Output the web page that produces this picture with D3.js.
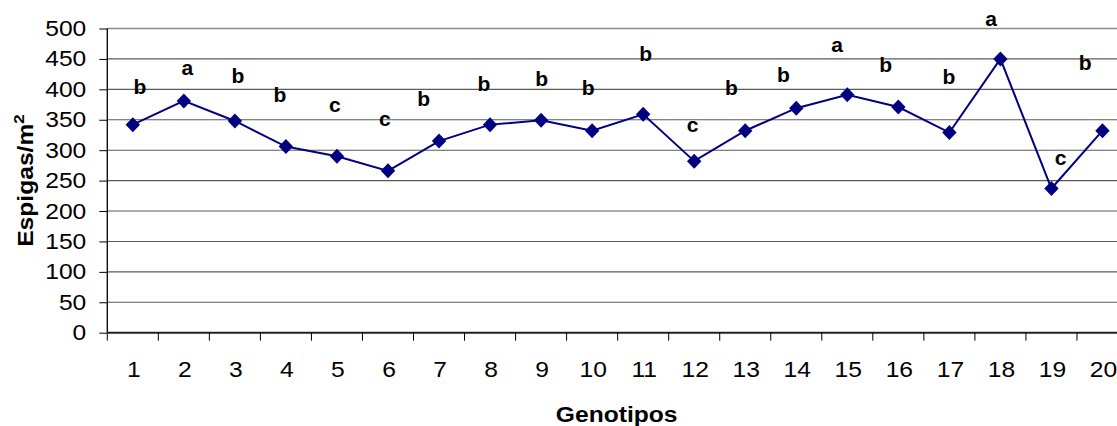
<!DOCTYPE html>
<html>
<head>
<meta charset="utf-8">
<script src="https://cdn.jsdelivr.net/npm/d3@7"></script>
<style>
  html, body { margin: 0; padding: 0; background: #fff; }
  svg { display: block; font-family: "Liberation Sans", Arial, sans-serif; }
</style>
</head>
<body>
<svg id="chart" width="1117" height="426"></svg>
<script>
// Genotypes on the x axis
const genotipos = ["1","2","3","4","5","6","7","8","9","10","11","12","13","14","15","16","17","18","19","20"];
// Spikes per square metre for each genotype
const espigas = [342, 381, 348, 306, 290, 266, 315, 342, 349, 332, 359, 282, 332, 369, 391, 371, 329, 450, 237, 332];
// Mean-separation letters for each genotype
const letras = ["b","a","b","b","c","c","b","b","b","b","b","c","b","b","a","b","b","a","c","b"];
// Where each letter sits: genotype coordinate and height on the value axis
const letraX = [1.14, 2.07, 3.06, 3.88, 4.96, 5.94, 6.70, 7.88, 9.01, 9.92, 11.05, 11.97, 12.73, 13.75, 14.80, 15.75, 16.99, 17.82, 19.18, 19.66];
const letraY = [392, 424, 411, 379, 362, 339, 372, 398, 405, 391, 447, 330, 391, 412, 461, 428, 409, 504, 275, 431];
// Value axis ticks
const yTicks = [0, 50, 100, 150, 200, 250, 300, 350, 400, 450, 500];

const svg = d3.select("#chart");
const plotL = 107.3, plotR = 1128, plotT = 28.5, plotB = 332.7;
const WIDE = 1.12; // horizontal widening of the text glyphs

const x = d3.scaleBand().domain(genotipos).range([plotL, plotR]).padding(0);
const xc = d => x(d) + x.bandwidth() / 2;
// continuous genotype coordinate for the letters
const xLin = d3.scaleLinear().domain([1, 20]).range([xc("1"), xc("20")]);
const y = d3.scaleLinear().domain([0, 500]).range([plotB, plotT]);

// places a text element at (px, py) with its glyphs widened
function placeWide(sel, px, py, sx) {
  sel.attr("x", 0).attr("y", 0)
     .attr("transform", (d, i) => `translate(${px(d, i)},${py(d, i)}) scale(${sx},1)`);
}

// horizontal gridlines
svg.append("g")
  .selectAll("line")
  .data(yTicks.filter(t => t > 0))
  .join("line")
  .attr("x1", plotL).attr("x2", plotR)
  .attr("y1", d => y(d)).attr("y2", d => y(d))
  .attr("stroke", d => d === 500 ? "#8a8a8a" : "#5a5a5a")
  .attr("stroke-width", d => d === 500 ? 1.6 : 1.1);

// y axis
const yAxis = svg.append("g")
  .attr("transform", `translate(${plotL},0)`)
  .call(d3.axisLeft(y).tickValues(yTicks).tickSize(8).tickPadding(13).tickFormat(d3.format("d")));
yAxis.select(".domain").attr("stroke", "#000").attr("stroke-width", 1.3).attr("d", `M0,${plotT}V${plotB}`);
yAxis.selectAll(".tick line").attr("stroke", "#000").attr("stroke-width", 1);
yAxis.selectAll(".tick text")
  .attr("font-size", 22).attr("fill", "#000")
  .attr("font-family", "Liberation Sans, Arial, sans-serif")
  .call(placeWide, () => -21, () => 0, WIDE);

// x axis with ticks on category boundaries
const xAxis = svg.append("g").attr("transform", `translate(0,${plotB})`);
xAxis.append("line")
  .attr("x1", plotL).attr("x2", plotR).attr("y1", 0).attr("y2", 0)
  .attr("stroke", "#222").attr("stroke-width", 2);
xAxis.selectAll("line.tk")
  .data(genotipos)
  .join("line")
  .attr("class", "tk")
  .attr("x1", d => x(d)).attr("x2", d => x(d))
  .attr("y1", 0).attr("y2", 8)
  .attr("stroke", "#000").attr("stroke-width", 1);
xAxis.selectAll("text")
  .data(genotipos)
  .join("text")
  .attr("text-anchor", "middle")
  .attr("font-size", 22)
  .attr("fill", "#000")
  .text(d => d)
  .call(placeWide, d => xc(d) + 1, () => 44, WIDE);

// axis titles
svg.append("text")
  .attr("text-anchor", "middle")
  .attr("font-size", 22)
  .attr("font-weight", "bold")
  .text("Genotipos")
  .call(placeWide, () => (plotL + plotR) / 2 - 1, () => 421.5, WIDE);

const yt = svg.append("text")
  .attr("transform", `translate(33,${(plotT + plotB) / 2}) rotate(-90) scale(${WIDE},1)`)
  .attr("text-anchor", "middle")
  .attr("font-size", 22)
  .attr("font-weight", "bold");
yt.append("tspan").text("Espigas/m");
yt.append("tspan").attr("font-size", 15).attr("dy", -9).text("2");

// data line
const line = d3.line().x((d, i) => xc(genotipos[i])).y(d => y(d));
svg.append("path")
  .datum(espigas)
  .attr("d", line)
  .attr("fill", "none")
  .attr("stroke", "#000080")
  .attr("stroke-width", 2);

// diamond markers
svg.append("g")
  .selectAll("path")
  .data(espigas)
  .join("path")
  .attr("transform", (d, i) => `translate(${xc(genotipos[i])},${y(d)})`)
  .attr("d", "M0,-7.5L7.2,0L0,7.5L-7.2,0Z")
  .attr("fill", "#000080");

// significance letters
svg.append("g")
  .selectAll("text")
  .data(letras)
  .join("text")
  .attr("text-anchor", "middle")
  .attr("font-size", 19.5)
  .attr("font-weight", "bold")
  .attr("fill", "#000")
  .text(d => d)
  .call(placeWide, (d, i) => xLin(letraX[i]), (d, i) => y(letraY[i]), 1.08);
</script>
</body>
</html>
